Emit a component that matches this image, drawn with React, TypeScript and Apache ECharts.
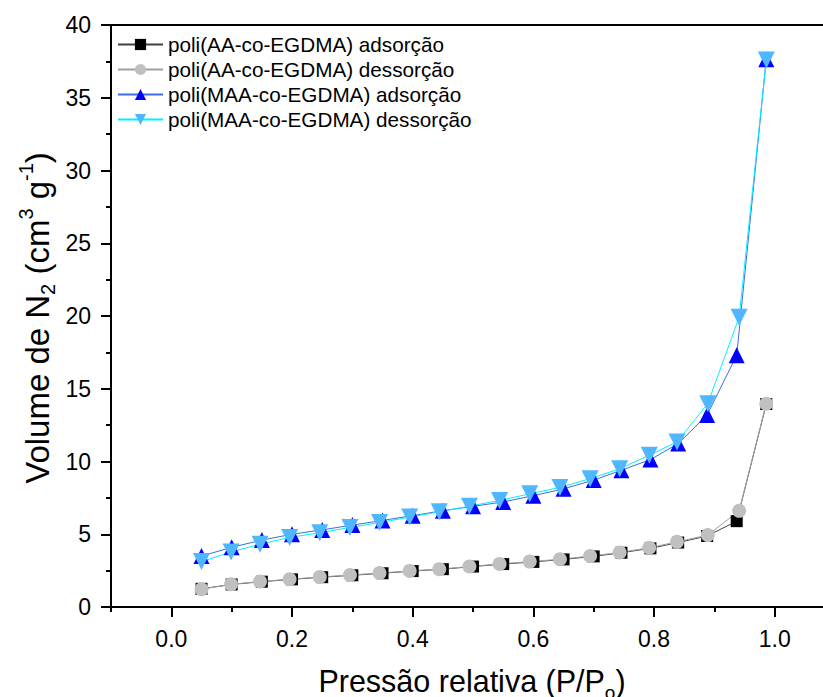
import React, { useEffect, useRef } from "react";
import * as echarts from "echarts";

// Relative pressure points (adsorption and desorption branches)
const pressureAds = [0.05, 0.1, 0.15, 0.2, 0.25, 0.3, 0.35, 0.4, 0.45, 0.5, 0.55, 0.6, 0.65, 0.7, 0.746, 0.794, 0.84, 0.888, 0.937, 0.986];
const pressureDes = [0.05, 0.099, 0.147, 0.196, 0.246, 0.296, 0.345, 0.395, 0.444, 0.494, 0.544, 0.594, 0.644, 0.694, 0.743, 0.792, 0.838, 0.889, 0.941, 0.986];

// Adsorbed N2 volume (cm3 g-1)
const aaAdsorcao = [1.25, 1.55, 1.74, 1.9, 2.05, 2.18, 2.32, 2.47, 2.6, 2.78, 2.95, 3.1, 3.27, 3.48, 3.73, 4.03, 4.43, 4.88, 5.9, 13.95];
const aaDessorcao = [1.22, 1.56, 1.75, 1.91, 2.06, 2.2, 2.33, 2.48, 2.6, 2.78, 2.96, 3.12, 3.28, 3.5, 3.75, 4.07, 4.48, 4.94, 6.61, 13.97];
const maaAdsorcao = [3.5, 4.1, 4.6, 5.0, 5.3, 5.63, 5.95, 6.28, 6.62, 6.92, 7.22, 7.65, 8.12, 8.72, 9.4, 10.13, 11.23, 13.2, 17.3, 37.65];
const maaDessorcao = [3.12, 3.78, 4.32, 4.78, 5.1, 5.47, 5.8, 6.18, 6.54, 6.93, 7.32, 7.78, 8.22, 8.82, 9.5, 10.43, 11.34, 13.97, 19.92, 37.6];

const seriesNames = [
  "poli(AA-co-EGDMA) adsorção",
  "poli(AA-co-EGDMA) dessorção",
  "poli(MAA-co-EGDMA) adsorção",
  "poli(MAA-co-EGDMA) dessorção",
];

// Axis ticks
const xMajorTicks = [0, 0.2, 0.4, 0.6, 0.8, 1.0];
const xMinorTicks = [-0.1, 0.1, 0.3, 0.5, 0.7, 0.9];

const FONT = "'Liberation Sans', Arial, Helvetica, sans-serif";
const DOWN_TRIANGLE = "path://M0,0 L10,0 L5,9 Z";

const pairs = (xs: number[], ys: number[]) => xs.map((x, i) => [x, ys[i]]);

export default function App() {
  const ref = useRef<HTMLDivElement>(null);

  useEffect(() => {
    if (!ref.current) return;
    const chart = echarts.init(ref.current, null, { renderer: "svg" });

    const lineSeries = (
      name: string,
      data: number[][],
      symbol: string,
      symbolSize: number,
      markerColor: string,
      lineColor: string
    ) => ({
      name,
      type: "line",
      data,
      symbol,
      symbolSize,
      showAllSymbol: true,
      itemStyle: { color: markerColor, borderWidth: 0, opacity: 1 },
      lineStyle: { color: lineColor, width: 1 },
      emphasis: { disabled: true },
    });

    chart.setOption({
      animation: false,
      backgroundColor: "#ffffff",
      grid: { left: 111, top: 25, right: 0, bottom: 90, containLabel: false },
      legend: {
        orient: "vertical",
        left: 117,
        top: 34,
        padding: 0,
        itemWidth: 45,
        itemHeight: 14,
        itemGap: 4,
        textStyle: { fontFamily: FONT, fontSize: 20.7, color: "#000", lineHeight: 21 },
        data: seriesNames,
      },
      xAxis: [
        {
          type: "value",
          min: -0.1,
          max: 1.08,
          position: "bottom",
          axisLine: { show: true, onZero: false, lineStyle: { color: "#000", width: 2 } },
          axisTick: {
            show: true,
            inside: false,
            length: 10,
            lineStyle: { color: "#000", width: 2 },
            customValues: xMajorTicks,
          },
          axisLabel: {
            show: true,
            margin: 20,
            fontFamily: FONT,
            fontSize: 23,
            color: "#000",
            customValues: xMajorTicks,
            formatter: (v: number) => v.toFixed(1),
          },
          splitLine: { show: false },
        },
        {
          type: "value",
          min: -0.1,
          max: 1.08,
          position: "bottom",
          axisLine: { show: false, onZero: false },
          axisTick: {
            show: true,
            inside: false,
            length: 5,
            lineStyle: { color: "#000", width: 2 },
            customValues: xMinorTicks,
          },
          axisLabel: { show: false },
          splitLine: { show: false },
        },
        {
          type: "value",
          min: -0.1,
          max: 1.08,
          position: "top",
          axisLine: { show: true, onZero: false, lineStyle: { color: "#000", width: 2 } },
          axisTick: { show: false },
          axisLabel: { show: false },
          splitLine: { show: false },
        },
      ],
      yAxis: {
        type: "value",
        min: 0,
        max: 40,
        interval: 5,
        axisLine: { show: true, onZero: false, lineStyle: { color: "#000", width: 2 } },
        axisTick: { show: true, inside: false, length: 10, lineStyle: { color: "#000", width: 2 } },
        minorTick: { show: true, splitNumber: 2, length: 5, lineStyle: { color: "#000", width: 2 } },
        axisLabel: { margin: 20, fontFamily: FONT, fontSize: 23, color: "#000" },
        splitLine: { show: false },
        minorSplitLine: { show: false },
      },
      graphic: [
        {
          type: "text",
          x: 472,
          y: 681,
          style: {
            text: "{a|Pressão relativa (P/P}{s|o}{a|)}",
            align: "center",
            verticalAlign: "middle",
            fill: "#000",
            rich: {
              a: { fontFamily: FONT, fontSize: 30.5, lineHeight: 42, fill: "#000" },
              s: { fontFamily: FONT, fontSize: 19, lineHeight: 18, verticalAlign: "bottom", fill: "#000" },
            },
          },
        },
        {
          type: "text",
          x: 37,
          y: 318,
          rotation: Math.PI / 2,
          style: {
            text: "{a|Volume de N}{s|2}{a| (cm}{p|3}{a| g}{p|-1}{a|)}",
            align: "center",
            verticalAlign: "middle",
            fill: "#000",
            rich: {
              a: { fontFamily: FONT, fontSize: 33, lineHeight: 42, fill: "#000" },
              s: { fontFamily: FONT, fontSize: 20, lineHeight: 20, verticalAlign: "bottom", fill: "#000" },
              p: { fontFamily: FONT, fontSize: 20, lineHeight: 20, verticalAlign: "top", fill: "#000" },
            },
          },
        },
      ],
      series: [
        lineSeries(seriesNames[0], pairs(pressureAds, aaAdsorcao), "rect", 12, "#000000", "#404040"),
        lineSeries(seriesNames[1], pairs(pressureDes, aaDessorcao), "circle", 14, "#c0c0c0", "#a0a0a0"),
        lineSeries(seriesNames[2], pairs(pressureAds, maaAdsorcao), "triangle", 16, "#0000ff", "#3a6ee0"),
        lineSeries(seriesNames[3], pairs(pressureDes, maaDessorcao), DOWN_TRIANGLE, 17, "#4fb7ff", "#00f0ff"),
      ],
    });

    return () => chart.dispose();
  }, []);

  return (
    <div
      ref={ref}
      style={{ position: "fixed", left: 0, top: 0, width: 823, height: 697, background: "#fff" }}
    />
  );
}
